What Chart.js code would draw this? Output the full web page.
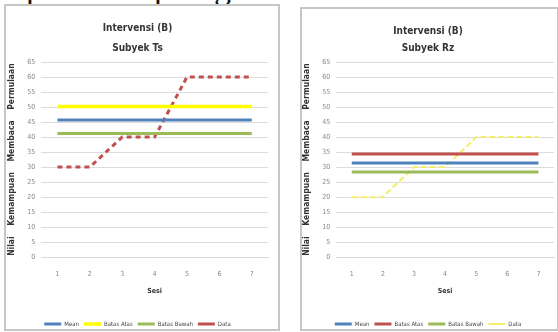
<!DOCTYPE html>
<html>
<head>
<meta charset="utf-8">
<script src="https://cdn.jsdelivr.net/npm/chart.js@4.4.1/dist/chart.umd.min.js"></script>
<style>
  body { margin: 0; background: #fff; width: 558px; height: 332px; overflow: hidden; position: relative; }
  .frag { position: absolute; top: -29px; font: 34px 'Liberation Serif', serif; line-height: 1; color: #111; }
  .panel { position: absolute; border: 2px solid #c6c6c6; background: #fff; box-sizing: border-box; }
  #p1 { left: 4px; top: 4px; width: 276px; height: 327px; }
  #p2 { left: 300px; top: 7px; width: 259px; height: 324px; }
  .panel div { position: absolute; left: 0; right: 0; top: 0; bottom: -8px; }
</style>
</head>
<body>
<span class="frag" style="left:26px">p</span>
<span class="frag" style="left:154px">p</span>
<span class="frag" style="left:214px">g</span>

<div class="panel" id="p1"><div><canvas id="chartTs"></canvas></div></div>
<div class="panel" id="p2"><div><canvas id="chartRz"></canvas></div></div>

<script>
// data
const sesi = ['1', '2', '3', '4', '5', '6', '7'];
const yTicks = [0, 5, 10, 15, 20, 25, 30, 35, 40, 45, 50, 55, 60, 65];

// subyek Ts
const dataTs = [30, 30, 40, 40, 60, 60, 60];
const meanTs = [45.7, 45.7, 45.7, 45.7, 45.7, 45.7, 45.7];
const atasTs = [50.2, 50.2, 50.2, 50.2, 50.2, 50.2, 50.2];
const bawahTs = [41.2, 41.2, 41.2, 41.2, 41.2, 41.2, 41.2];

// subyek Rz
const dataRz = [20, 20, 30, 30, 40, 40, 40];
const meanRz = [31.4, 31.4, 31.4, 31.4, 31.4, 31.4, 31.4];
const atasRz = [34.4, 34.4, 34.4, 34.4, 34.4, 34.4, 34.4];
const bawahRz = [28.4, 28.4, 28.4, 28.4, 28.4, 28.4, 28.4];

const NARROW = "'Liberation Sans Narrow', 'DejaVu Sans Condensed', 'Liberation Sans', sans-serif";
const BLUE = '#4f81bd', RED = '#c0504d', GREEN = '#9bbb59', YELLOW = '#ffff00';

function line(label, data, color, width, dash) {
  return {
    label: label,
    data: data,
    borderColor: color,
    backgroundColor: color,
    borderWidth: width,
    borderDash: dash || [],
    pointRadius: 0,
    tension: 0,
    fill: false
  };
}

// lay = small per-panel spacing differences
function makeChart(id, subyek, datasets, lay) {
  const ctx = document.getElementById(id).getContext('2d');
  return new Chart(ctx, {
    type: 'line',
    data: { labels: sesi, datasets: datasets },
    options: {
      responsive: true,
      maintainAspectRatio: false,
      animation: false,
      layout: { padding: { left: lay.left, right: lay.right, top: 0, bottom: 0 } },
      plugins: {
        tooltip: { enabled: false },
        title: {
          display: true,
          text: ['Intervensi (B)', subyek],
          color: '#333',
          font: { family: NARROW, size: 10, weight: 'bold', lineHeight: lay.titleLh },
          padding: { top: lay.titleTop, bottom: lay.titleBottom }
        },
        legend: {
          position: 'bottom',
          labels: {
            usePointStyle: true,
            pointStyle: 'line',
            pointStyleWidth: 17,
            boxHeight: 6,
            padding: 5,
            color: '#444',
            font: { family: NARROW, size: 6 }
          }
        }
      },
      scales: {
        x: {
          offset: true,
          grid: { display: false },
          border: { color: '#d9d9d9' },
          ticks: { color: '#888', font: { family: NARROW, size: 7 }, padding: 5 },
          title: { display: true, text: 'Sesi', color: '#333', font: { family: NARROW, size: 7, weight: 'bold' }, padding: { top: 3, bottom: 21 } }
        },
        y: {
          min: yTicks[0],
          max: yTicks[yTicks.length - 1],
          afterBuildTicks: (axis) => { axis.ticks = yTicks.map(v => ({ value: v })); },
          grid: { color: '#dcdcdc', drawTicks: false },
          border: { display: false },
          ticks: { color: '#888', font: { family: NARROW, size: 7 }, padding: 6 },
          title: {
            display: true,
            text: 'Nilai    Kemampuan    Membaca    Permulaan',
            color: '#333',
            font: { family: NARROW, size: 8.5, weight: 'bold' },
            padding: { top: 0, bottom: 4 }
          }
        }
      }
    }
  });
}

makeChart('chartTs', 'Subyek Ts', [
  line('Mean', meanTs, BLUE, 3),
  line('Batas Atas', atasTs, YELLOW, 3.5),
  line('Batas Bawah', bawahTs, GREEN, 3),
  line('Data', dataTs, RED, 3, [5, 4])
], { left: 1, right: 10, titleTop: 12, titleLh: 2, titleBottom: 4 });

makeChart('chartRz', 'Subyek Rz', [
  line('Mean', meanRz, BLUE, 3),
  line('Batas Atas', atasRz, RED, 3),
  line('Batas Bawah', bawahRz, GREEN, 3),
  line('Data', dataRz, '#f3ef6a', 2, [6, 3])
], { left: 0, right: 3, titleTop: 14, titleLh: 1.7, titleBottom: 5 });
</script>
</body>
</html>
